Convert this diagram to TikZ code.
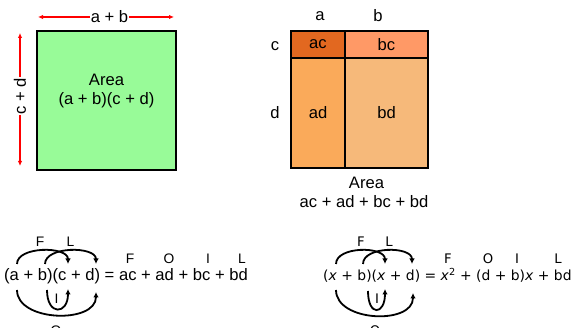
\documentclass[tikz,border=0pt]{standalone}
\usepackage{fontspec}
\setmainfont{Liberation Sans}
\newfontfamily\djv{DejaVu Sans}
\usetikzlibrary{arrows.meta}

\definecolor{boxgreen}{RGB}{152,251,152}
\definecolor{cellac}{RGB}{226,104,32}
\definecolor{cellbc}{RGB}{255,153,102}
\definecolor{cellad}{RGB}{250,170,90}
\definecolor{cellbd}{RGB}{246,185,122}

\begin{document}
\begin{tikzpicture}[x=1pt,y=-1pt,
  lbl/.style={font=\fontsize{16.6}{19}\selectfont, inner sep=0pt},
  foil/.style={font=\fontsize{13.8}{15}\selectfont, inner sep=0pt},
  dlbl/.style={font=\djv\fontsize{13.9}{16}\selectfont, inner sep=0pt},
  dfoil/.style={font=\djv\fontsize{13.2}{15}\selectfont, inner sep=0pt},
  dim/.style={red, line width=1.5pt, -{Latex[length=5pt,width=4.5pt]}},
  loop/.style={black, line width=1.8pt, -{Latex[length=5.5pt,width=5.5pt]}},
  cell/.style={draw=black, line width=2pt, minimum height=#1, inner sep=0pt,
    font=\fontsize{16.6}{19}\selectfont},
]
\useasboundingbox (0,0) rectangle (573,328);

% ---- square of side (a+b) by (c+d) ----
\node[draw, line width=1.8pt, fill=boxgreen, minimum width=139pt,
      minimum height=139pt, inner sep=0pt] (sq) at (106.5,100.5) {};
\node[lbl, align=center] (areaL) at (106.5,91) {Area\\(a + b)(c + d)};

\node[lbl, inner xsep=1pt] (ab) at (109.5,17) {a + b};
\coordinate (abL) at (38,17);
\coordinate (abR) at (174,17);
\draw[dim] (ab.west) -- (abL);
\draw[dim] (ab.east) -- (abR);

\node[lbl, inner xsep=1pt, rotate=90] (cd) at (20,96) {c + d};
\coordinate (cdT) at (20,33);
\coordinate (cdB) at (20,166);
\draw[dim] (cd.east) -- (cdT);
\draw[dim] (cd.west) -- (cdB);

% ---- the same area split into four parts ----
\node[cell=27pt, minimum width=54pt, fill=cellac] (ac) at (318,44.5) {ac};
\node[cell=27pt, minimum width=83pt, fill=cellbc] (bc) at (386.5,44.5) {bc};
\node[cell=110pt, minimum width=54pt, fill=cellad] (ad) at (318,113) {ad};
\node[cell=110pt, minimum width=83pt, fill=cellbd] (bd) at (386.5,113) {bd};

\node[lbl] (ha) at (320,16) {a};
\node[lbl] (hb) at (378,16) {b};
\node[lbl] (hc) at (275,46) {c};
\node[lbl] (hd) at (275,113) {d};

\node[lbl] (areaR1) at (366.5,183) {Area};
\node[lbl] (areaR2) at (364,202) {ac + ad + bc + bd};

% ---- FOIL with letters ----
\node[lbl, anchor=base west] (eqL) at (4,281) {(a + b)(c + d) = ac + ad + bc + bd};
\node[foil] (fF) at (130,259) {F};
\node[foil] (fO) at (169,259) {O};
\node[foil] (fI) at (208,259) {I};
\node[foil] (fL) at (242,259) {L};

\coordinate (aT) at (17,264);
\coordinate (bT) at (45,264);
\coordinate (cT) at (68,264);
\coordinate (dT) at (96,264);
\coordinate (aB) at (17,290);
\coordinate (bB) at (47,290);
\coordinate (cB) at (68,289);
\coordinate (dB) at (96,292);

\draw[loop] (aT) .. controls +(0,-18) and +(0,-18) .. (cT);
\draw[loop] (bT) .. controls +(0,-18) and +(0,-18) .. (dT);
\draw[loop] (bB) .. controls +(0,26) and +(0,26) .. (cB);
\draw[loop] (aB) .. controls +(0,32) and +(0,32) .. (dB);

\node[foil] (aF) at (40,242) {F};
\node[foil] (aL) at (70.5,242) {L};
\node[foil] (aI) at (56.5,299) {I};
\node[foil] (aO) at (56,330.5) {O};

% ---- FOIL with x ----
\node[dlbl, anchor=base west] (eqR) at (323,281)
  {(\textit{x} + b)(\textit{x} + d) = \textit{x}\textsuperscript{2} + (d + b)\textit{x} + bd};
\node[dfoil] (gF) at (448,259) {F};
\node[dfoil] (gO) at (488,259) {O};
\node[dfoil] (gI) at (517,259) {I};
\node[dfoil] (gL) at (558,259) {L};

\coordinate (xT) at (336,264);
\coordinate (yT) at (363,264);
\coordinate (zT) at (385,264);
\coordinate (wT) at (412,264);
\coordinate (xB) at (336,290);
\coordinate (yB) at (368,291);
\coordinate (zB) at (385,289);
\coordinate (wB) at (413,293);

\draw[loop] (xT) .. controls +(0,-18) and +(0,-18) .. (zT);
\draw[loop] (yT) .. controls +(0,-18) and +(0,-18) .. (wT);
\draw[loop] (yB) .. controls +(0,26) and +(0,26) .. (zB);
\draw[loop] (xB) .. controls +(0,32) and +(0,32) .. (wB);

\node[dfoil] (bF) at (361,242) {F};
\node[dfoil] (bL) at (389,242) {L};
\node[dfoil] (bI) at (377,299) {I};
\node[dfoil] (bO) at (375,330.5) {O};
\end{tikzpicture}
\end{document}
